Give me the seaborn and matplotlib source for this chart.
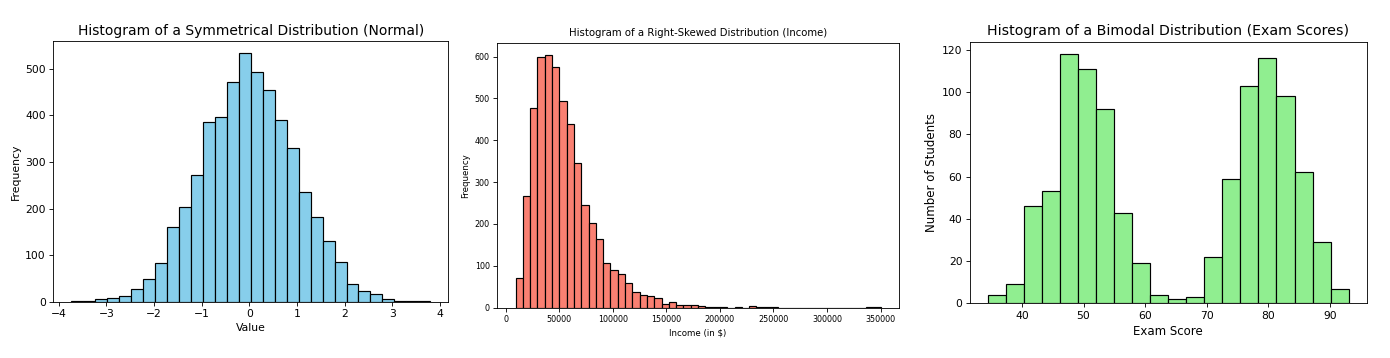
import numpy as np
import pandas as pd
import matplotlib
matplotlib.use("Agg")
import matplotlib.pyplot as plt
import seaborn as sns

# ---- Data (bin ranges and counts) ----
normal_lo, normal_hi = -3.74, 3.80
normal_counts = [1, 1, 5, 7, 13, 27, 49, 84, 161, 203, 271, 385, 396, 471, 533,
                 494, 454, 391, 331, 236, 182, 131, 86, 38, 22, 16, 5, 2, 1, 1]

income_lo, income_hi = 9300, 350000
income_counts = [70, 267, 477, 598, 603, 575, 495, 440, 346, 246, 203, 165, 106, 91, 81,
                 58, 38, 31, 29, 24, 10, 13, 7, 7, 7, 4, 1, 1, 1, 0,
                 1, 0, 4, 1, 1, 1, 0, 0, 0, 0, 0, 0, 0, 0, 0,
                 0, 0, 0, 1, 1]

exam_lo, exam_hi = 34.5, 93.0
exam_counts = [4, 9, 46, 53, 118, 111, 92, 43, 19, 4, 2, 3, 22, 59, 103, 116, 98, 62, 29, 7]

titles = ["Histogram of a Symmetrical Distribution (Normal)",
          "Histogram of a Right-Skewed Distribution (Income)",
          "Histogram of a Bimodal Distribution (Exam Scores)"]
xlabels = ["Value", "Income (in $)", "Exam Score"]
ylabels = ["Frequency", "Frequency", "Number of Students"]
colors = ["skyblue", "salmon", "lightgreen"]

# ---- Figure ----
dpi = 1390 / 18
fig = plt.figure(figsize=(18, 358 / dpi), dpi=dpi)
positions = [
    [0.0383, 0.1573, 0.2842, 0.7282],
    [0.3578, 0.1405, 0.2888, 0.7402],
    [0.6978, 0.1528, 0.2854, 0.7307],
]
datasets = [(normal_lo, normal_hi, normal_counts),
            (income_lo, income_hi, income_counts),
            (exam_lo, exam_hi, exam_counts)]
title_sizes = [13, 9.5, 13.2]
label_sizes = [10.2, 8, 11]
tick_sizes = [10, 7.5, 10]

for i, (lo, hi, counts) in enumerate(datasets):
    ax = fig.add_axes(positions[i])
    n = len(counts)
    edges = np.linspace(lo, hi, n + 1)
    centers = (edges[:-1] + edges[1:]) / 2
    df = pd.DataFrame({"x": centers, "w": np.asarray(counts, dtype=float)})
    sns.histplot(data=df, x="x", weights="w", bins=n, binrange=(lo, hi),
                 color=colors[i], edgecolor="black", alpha=1, linewidth=1.1, ax=ax)
    ax.set_title(titles[i], fontsize=title_sizes[i])
    ax.set_xlabel(xlabels[i], fontsize=label_sizes[i])
    ax.set_ylabel(ylabels[i], fontsize=label_sizes[i])
    ax.tick_params(labelsize=tick_sizes[i])

fig.savefig("out.png", dpi=dpi)
